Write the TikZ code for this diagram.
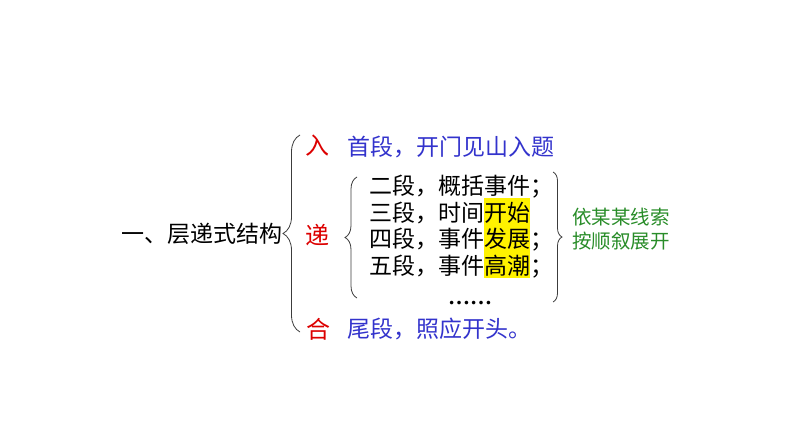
\documentclass[tikz,border=0pt]{standalone}
\usepackage{fontspec}
\setmainfont{Noto Sans CJK SC}
\newfontfamily\dotsfont{Liberation Serif}
\usetikzlibrary{decorations.pathreplacing,positioning}
\definecolor{headred}{RGB}{220,0,0}
\definecolor{partblue}{RGB}{51,51,204}
\definecolor{notegreen}{RGB}{40,140,40}
\definecolor{bracegray}{RGB}{60,60,60}
\newcommand\hilite[1]{{\setlength{\fboxsep}{0pt}\colorbox{yellow}{\rule[-4pt]{0pt}{27pt}#1}}}

\begin{document}
\begin{tikzpicture}[x=1pt,y=-1pt,
    bigtext/.style={inner sep=0pt, font=\fontsize{23}{27}\selectfont},
    keyword/.style={inner sep=0pt, text=headred, font=\fontsize{24}{28}\selectfont},
    parttext/.style={bigtext, text=partblue},
    notetext/.style={inner sep=0pt, text=notegreen, font=\fontsize{19.5}{23}\selectfont},
    braceline/.style={draw=bracegray, line width=0.8pt, decorate}]
    \useasboundingbox (0,0) rectangle (794,447);
    % Draw the title
    \node[bigtext, anchor=west] (title) at (121,234) {一、层递式结构};
    % Draw the three keywords
    \node[keyword, anchor=west] (ru) at (305,146) {入};
    \node[keyword, anchor=west] (di) at (305,235) {递};
    \node[keyword, anchor=west] (he) at (306,329) {合};
    % Draw the first and last paragraphs
    \node[parttext, anchor=west] (first) at (347,147) {首段，开门见山入题};
    \node[parttext, anchor=west] (last) at (347,329) {尾段，照应开头。};
    % Draw the middle paragraphs
    \node[bigtext, anchor=base west] (second) at (369,194.5) {二段，概括事件；};
    \node[bigtext, anchor=base west] (third) at (369,221) {三段，时间\hilite{开始}};
    \node[bigtext, anchor=base west] (fourth) at (369,247.5) {四段，事件\hilite{发展}；};
    \node[bigtext, anchor=base west] (fifth) at (369,274) {五段，事件\hilite{高潮}；};
    \node[inner sep=0pt, anchor=base, font=\dotsfont\bfseries\fontsize{22}{24}\selectfont] (more) at (470,304) {……};
    % Draw the note
    \node[notetext, anchor=west] (note1) at (572,217) {依某某线索};
    \node[notetext, anchor=west] (note2) at (572,241) {按顺叙展开};
    % Draw the braces
    \coordinate (outer top) at (300,135);
    \coordinate (outer bottom) at (300,332);
    \coordinate (inner top) at (357,177);
    \coordinate (inner bottom) at (357,298);
    \coordinate (right top) at (553,172);
    \coordinate (right bottom) at (553,302);
    \draw[braceline, decoration={brace, amplitude=17pt}] (outer bottom) -- (outer top);
    \draw[braceline, decoration={brace, amplitude=12pt}] (inner bottom) -- (inner top);
    \draw[braceline, decoration={brace, amplitude=9pt}] (right top) -- (right bottom);
\end{tikzpicture}
\end{document}
